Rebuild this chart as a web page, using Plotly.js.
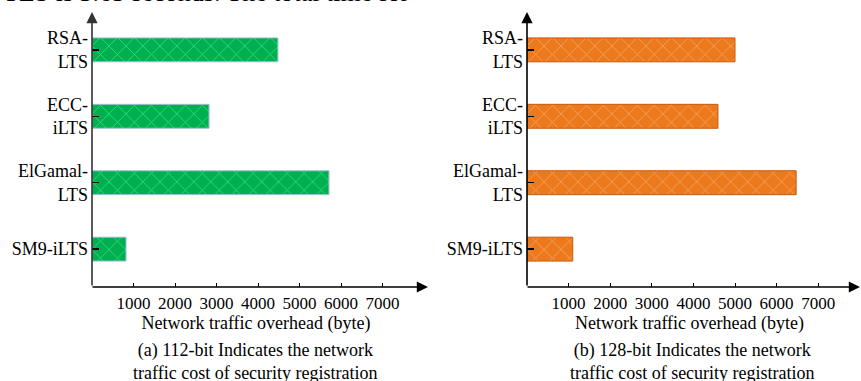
<!DOCTYPE html>
<html>
<head>
<meta charset="utf-8">
<script src="https://cdn.plot.ly/plotly-3.0.1.min.js"></script>
<style>
  html, body { margin: 0; padding: 0; background: #fff; }
  #chart { width: 861px; height: 381px; }
</style>
</head>
<body>
<div id="chart"></div>
<script>
// Schemes, listed bottom to top on the category axis
const schemes = ['SM9-iLTS', 'ElGamal-<br>LTS', 'ECC-<br>iLTS', 'RSA-<br>LTS'];
// Network traffic overhead (byte) for each security level
const traffic112 = [820, 5710, 2820, 4480];
const traffic128 = [1100, 6470, 4590, 5000];
const xTicks = [1000, 2000, 3000, 4000, 5000, 6000, 7000];
const xTitle = 'Network traffic overhead (byte)';
const captionA = '(a) 112-bit Indicates the network<br>traffic cost of security registration';
const captionB = '(b) 128-bit Indicates the network<br>traffic cost of security registration';
const runningText = 'TLS is 3.65 seconds. The total time for';

const W = 861, H = 381;
const serif = 'Liberation Serif';
const px = v => v / W;
const py = v => 1 - v / H;

function barTrace(values, axis, bg, fg, edge) {
  return {
    type: 'bar',
    orientation: 'h',
    y: schemes,
    x: values,
    xaxis: 'x' + (axis === 1 ? '' : axis),
    yaxis: 'y' + (axis === 1 ? '' : axis),
    width: 0.36,
    marker: {
      color: bg,
      line: { color: edge, width: 1 },
      pattern: { shape: 'x', size: 12, solidity: 0.14, fgcolor: fg, bgcolor: bg, fillmode: 'replace' }
    },
    hoverinfo: 'x+y',
    showlegend: false
  };
}

const traces = [
  barTrace(traffic112, 1, '#00B050', '#30DA7A', '#9EC0D8'),
  barTrace(traffic128, 2, '#EC7A1C', '#F4A060', '#C45A0E')
];

function xAxis(domain, range) {
  return {
    domain: domain,
    range: range,
    tickvals: xTicks,
    ticks: 'inside',
    ticklen: 4,
    tickwidth: 1,
    tickcolor: '#000',
    showline: false,
    showgrid: false,
    zeroline: false,
    ticklabelstandoff: 4,
    tickfont: { family: serif, size: 17, color: '#000' },
    title: { text: xTitle, font: { family: serif, size: 18, color: '#000' }, standoff: 2 },
    fixedrange: true
  };
}

function yAxis(anchor) {
  return {
    domain: [py(287), py(12)],
    range: [-0.57, 3.57],
    anchor: anchor,
    type: 'category',
    ticks: 'inside',
    ticklen: 7,
    tickwidth: 1.5,
    tickcolor: '#000',
    showline: false,
    showgrid: false,
    zeroline: false,
    ticklabelstandoff: 3,
    tickfont: { family: serif, size: 18, color: '#000' },
    fixedrange: true
  };
}

// Axis lines with arrowheads, in figure pixels
function arrow(x0, y0, x1, y1, color) {
  return {
    xref: 'paper', yref: 'paper',
    x: px(x1), y: py(y1),
    axref: 'pixel', ayref: 'pixel',
    ax: x0 - x1, ay: y0 - y1,
    text: '', showarrow: true,
    arrowhead: 2, arrowsize: 1.4, arrowwidth: 1.6,
    arrowcolor: color
  };
}

const annotations = [
  arrow(92, 287, 92, 12, '#333'),
  arrow(91, 287, 428, 287, '#000'),
  arrow(527, 287, 527, 12, '#000'),
  arrow(526, 287, 860, 287, '#000'),
  {
    xref: 'paper', yref: 'paper', x: px(255), y: py(361),
    xanchor: 'center', yanchor: 'middle', showarrow: false,
    text: captionA, font: { family: serif, size: 18, color: '#000' }
  },
  {
    xref: 'paper', yref: 'paper', x: px(692), y: py(361),
    xanchor: 'center', yanchor: 'middle', showarrow: false,
    text: captionB, font: { family: serif, size: 18, color: '#000' }
  },
  // running text of the page above the figure, mostly outside the frame
  {
    xref: 'paper', yref: 'paper', x: px(1), y: py(-7),
    xanchor: 'left', yanchor: 'middle', showarrow: false,
    text: runningText, font: { family: serif, size: 26, color: '#000' }
  }
];

const layout = {
  width: W, height: H,
  margin: { l: 0, r: 0, t: 0, b: 0, pad: 0 },
  paper_bgcolor: '#fff',
  plot_bgcolor: 'rgba(0,0,0,0)',
  font: { family: serif },
  xaxis: xAxis([px(92), px(420)], [0, (420 - 92) / 41.5 * 1000]),
  yaxis: yAxis('x'),
  xaxis2: xAxis([px(527), px(852)], [0, (852 - 527) / 41.6 * 1000]),
  yaxis2: yAxis('x2'),
  annotations: annotations,
  bargap: 0.5
};

Plotly.newPlot('chart', traces, layout, { displayModeBar: false, staticPlot: true });
</script>
</body>
</html>
